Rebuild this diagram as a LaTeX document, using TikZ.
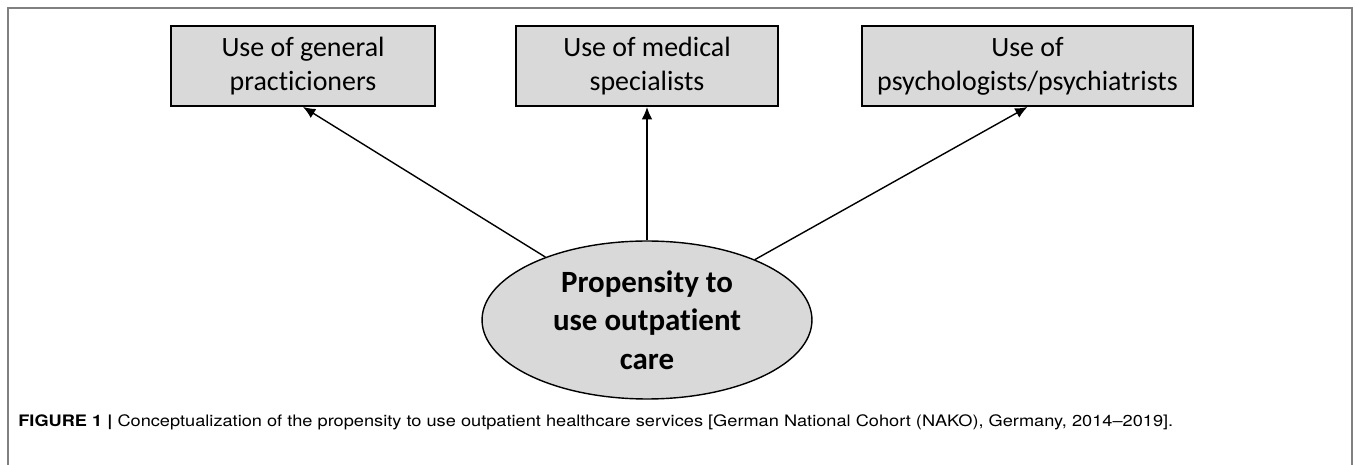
\documentclass[tikz,border=0pt]{standalone}
\usepackage{fontspec}
\setmainfont{Carlito}[Ligatures={TeX,NoCommon}]
\newfontfamily\capfont{TeX Gyre Heros}[Ligatures=TeX]
\usetikzlibrary{shapes.geometric,arrows.meta}

\definecolor{boxgray}{HTML}{D9D9D9}
\definecolor{framegray}{HTML}{808080}

\begin{document}
\begin{tikzpicture}[x=0.02cm, y=-0.02cm,
	usebox/.style={draw, line width=1.1pt, fill=boxgray, minimum height=1.6cm, inner sep=0pt, align=center, font=\fontsize{15.9}{19.4}\selectfont},
	link/.style={-{Latex[length=7pt,width=6pt]}, line width=0.8pt}]
	\useasboundingbox (0,0) rectangle (1355,465);
	% open frame round the figure
	\draw[framegray, line width=0.7pt] (8,465) |- (1352,8) -- (1352,465);
	% the three kinds of use
	\node[usebox, minimum width=5.28cm] (gp) at (303,66) {Use of general\\practicioners};
	\node[usebox, minimum width=5.24cm] (spec) at (647,66) {Use of medical\\specialists};
	\node[usebox, minimum width=6.62cm] (psy) at (1027.5,66) {Use of\\psychologists/psychiatrists};
	% latent propensity
	\node[ellipse, draw, line width=0.8pt, fill=boxgray, minimum width=6.6cm, minimum height=3.16cm, inner sep=0pt, align=center, font=\bfseries\fontsize{17.6}{21.8}\selectfont] (prop) at (647,320) {Propensity to\\use outpatient\\care};
	\foreach \b in {gp,spec,psy}
		\draw[link] (prop) -- (\b.south);
	\node[anchor=base west, inner sep=0pt, font=\capfont\fontsize{9}{11}\selectfont] (cap) at (18,426) {\resizebox{23.1cm}{\height}{\textbf{FIGURE 1 |} Conceptualization of the propensity to use outpatient healthcare services [German National Cohort (NAKO), Germany, 2014–2019].}};
\end{tikzpicture}
\end{document}
